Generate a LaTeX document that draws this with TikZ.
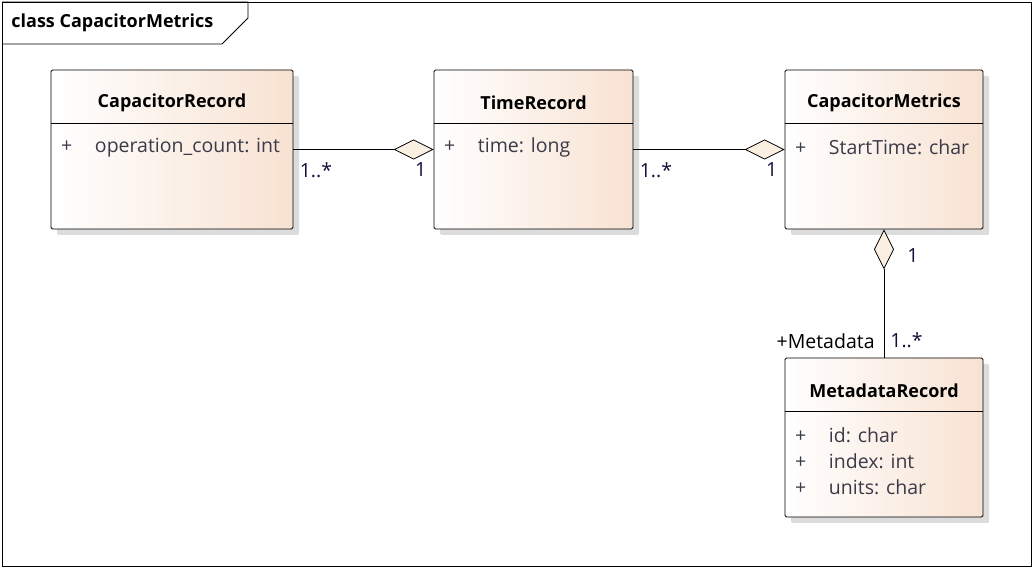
\documentclass[tikz,border=0pt]{standalone}
\usepackage{fontspec}
\setmainfont{Open Sans}
\usetikzlibrary{arrows.meta,positioning,shadows}
\definecolor{peach}{HTML}{F8E2D2}
\definecolor{dfill}{HTML}{FBEFE2}
\definecolor{shade}{HTML}{DCDCDC}
\definecolor{attrtext}{HTML}{3A3A48}
\definecolor{multtext}{HTML}{10103A}
\tikzset{
  classbox/.style={draw, rounded corners=1.5pt, minimum width=242pt, minimum height=159pt,
    left color=white, right color=peach, inner sep=0pt,
    drop shadow={shadow xshift=6pt, shadow yshift=-6pt, fill=shade, opacity=1}},
  classname/.style={font=\fontsize{18}{21}\selectfont\bfseries, anchor=center},
  attr/.style={font=\fontsize{19.5}{22}\selectfont, text=attrtext, anchor=west, inner sep=0pt},
  mult/.style={font=\fontsize{19.5}{22}\selectfont, text=multtext, inner sep=1pt},
  aggr/.style={-{Diamond[length=40pt,width=20pt,fill=dfill,line width=0.8pt]}}
}
\newcommand{\vis}{\makebox[34pt][l]{+}}
\begin{document}
\begin{tikzpicture}[x=1pt,y=1pt, line width=0.8pt]
  \useasboundingbox (0,0) rectangle (1034,568);
  % frame
  \draw (2,2) rectangle (1031,566);
  \draw (2,566) -- (248,566) -- (248,550) -- (222,524) -- (2,524);
  \node[font=\fontsize{18}{21}\selectfont\bfseries, anchor=west, inner sep=0pt] (frametitle) at (11,545) {class CapacitorMetrics};
  % classes
  \node[classbox] (cr) at (172,418.5) {};
  \node[classbox, minimum width=199pt] (tr) at (533.5,418.5) {};
  \node[classbox, minimum width=198pt] (cm) at (884,418.5) {};
  \node[classbox, minimum width=198pt] (mr) at (884,130.5) {};
  \foreach \c/\t in {cr/CapacitorRecord, tr/TimeRecord, cm/CapacitorMetrics, mr/MetadataRecord} {
    \node[classname] (\c-name) at ([yshift=-33pt]\c.north) {\t};
    \draw ([yshift=-54pt]\c.north west) -- ([yshift=-54pt]\c.north east);
  }
  % attributes
  \node[attr] (cr-a1) at ([shift={(10pt,-78pt)}]cr.north west) {\vis operation\_count: int};
  \node[attr] (tr-a1) at ([shift={(10pt,-78pt)}]tr.north west) {\vis time: long};
  \node[attr] (cm-a1) at ([shift={(10pt,-78pt)}]cm.north west) {\vis StartTime: char};
  \node[attr] (mr-a1) at ([shift={(10pt,-78pt)}]mr.north west) {\vis id: char};
  \node[attr] (mr-a2) at ([yshift=-26pt]mr-a1.west) {\vis index: int};
  \node[attr] (mr-a3) at ([yshift=-26pt]mr-a2.west) {\vis units: char};
  % associations
  \draw[aggr] (cr.east) -- (tr.west);
  \node[mult, anchor=north west] (m1a) at ([shift={(5pt,-12pt)}]cr.east) {1..*};
  \node[mult, anchor=north east] (m1b) at ([shift={(-6pt,-12pt)}]tr.west) {1};
  \draw[aggr] (tr.east) -- (cm.west);
  \node[mult, anchor=north west] (m2a) at ([shift={(5pt,-12pt)}]tr.east) {1..*};
  \node[mult, anchor=north east] (m2b) at ([shift={(-6pt,-12pt)}]cm.west) {1};
  \draw[aggr] (mr.north) -- (cm.south);
  \node[mult, anchor=west] (m3a) at ([shift={(22pt,-26pt)}]cm.south) {1};
  \node[mult, anchor=south west] (m3b) at ([shift={(5pt,8pt)}]mr.north) {1..*};
  \node[mult, anchor=south east, text=black] (role) at ([shift={(-8pt,8pt)}]mr.north) {+Metadata};
\end{tikzpicture}
\end{document}
